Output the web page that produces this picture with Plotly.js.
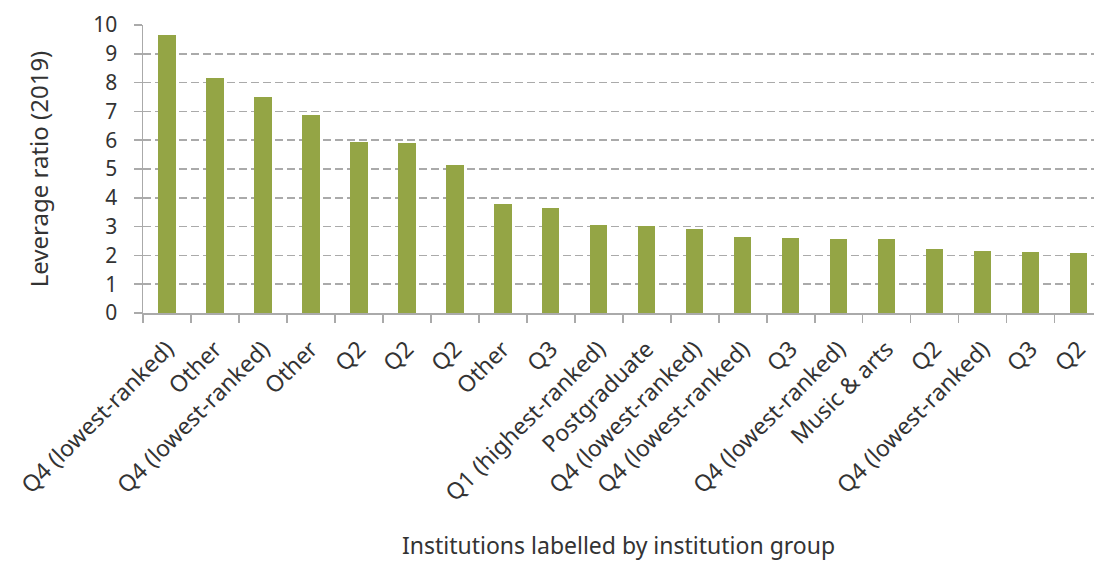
<!DOCTYPE html>
<html>
<head>
<meta charset="utf-8">
<script src="https://cdn.plot.ly/plotly-3.0.1.min.js"></script>
<style>html,body{margin:0;padding:0;background:#fff;overflow:hidden}</style>
</head>
<body>
<div id="chart" style="width:1094px;height:581px"></div>
<script>
const categories = ["Q4 (lowest-ranked)","Other","Q4 (lowest-ranked)","Other","Q2","Q2","Q2","Other","Q3",
  "Q1 (highest-ranked)","Postgraduate","Q4 (lowest-ranked)","Q4 (lowest-ranked)","Q3","Q4 (lowest-ranked)",
  "Music & arts","Q2","Q4 (lowest-ranked)","Q3","Q2"];
const leverage = [9.64,8.15,7.51,6.89,5.93,5.90,5.13,3.80,3.65,3.05,3.02,2.93,2.65,2.62,2.58,2.56,2.22,2.15,2.11,2.07];
const yTicks = [0,1,2,3,4,5,6,7,8,9,10];

const idx = categories.map((_, i) => i);
const bounds = categories.map((_, i) => i - 0.5).concat([categories.length - 0.5]);
const fam = "Noto Sans, Open Sans, sans-serif";
const font = {family: fam, size: 23, color: "#333333"};
const yfont = {family: fam, size: 21, color: "#333333"};
const ytitleFont = {family: fam, size: 24, color: "#333333"};

Plotly.newPlot("chart", [{
  type: "bar",
  x: idx,
  y: leverage,
  width: 0.36,
  marker: {color: "#94a545", line: {width: 0}},
  hoverinfo: "y"
}], {
  width: 1094, height: 581,
  margin: {l: 143, r: 0, t: 25, b: 268, pad: 0},
  paper_bgcolor: "#fff", plot_bgcolor: "#fff",
  font: font,
  showlegend: false,
  bargap: 0,
  xaxis: {
    range: [-0.5, 19.32],
    tickmode: "array", tickvals: idx, ticktext: categories,
    tickangle: -45, ticks: "", tickfont: font,
    ticklabelstandoff: 12,
    showgrid: false, zeroline: false,
    showline: true, linecolor: "#aaaaaa", linewidth: 1.5,
    minor: {tickmode: "array", tickvals: bounds, ticks: "outside", ticklen: 8, tickcolor: "#aaaaaa", tickwidth: 1.5, showgrid: false},
    title: {text: "Institutions labelled by institution group", font: font, standoff: 31}
  },
  yaxis: {
    range: [0, 10],
    tickmode: "array", tickvals: yTicks,
    ticks: "outside", ticklen: 8, tickcolor: "#aaaaaa", tickwidth: 1.5,
    ticklabelstandoff: 12,
    tickfont: yfont,
    showgrid: true, gridcolor: "#aaaaaa", griddash: "8px,4px", gridwidth: 1.5,
    zeroline: false,
    showline: true, linecolor: "#aaaaaa", linewidth: 1.5,
    title: {text: "Leverage ratio (2019)", font: ytitleFont, standoff: 38}
  }
}, {displayModeBar: false, staticPlot: true});
</script>
</body>
</html>
